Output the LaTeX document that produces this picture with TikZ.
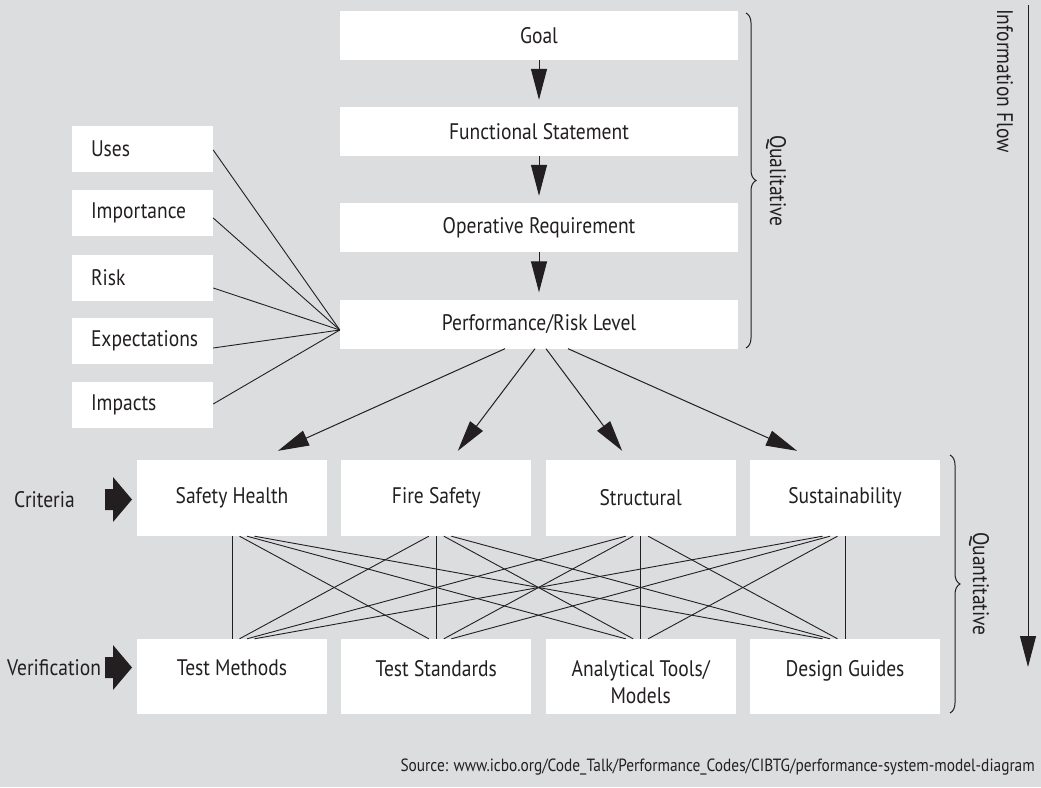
\documentclass[tikz,border=0pt]{standalone}
\usepackage{fontspec}
\setmainfont{PT Sans}[FakeStretch=0.868]
\usetikzlibrary{arrows.meta,decorations.pathreplacing,calc}
\definecolor{bg}{RGB}{220,221,223}
\definecolor{ink}{RGB}{35,31,32}
\begin{document}
\begin{tikzpicture}[x=1pt,y=-1pt,
  txt/.style={text=ink, font=\fontsize{22.5}{27}\selectfont},
  topbox/.style={txt, fill=white, inner sep=0pt, minimum width=398pt, minimum height=49pt},
  leftbox/.style={txt, fill=white, inner xsep=19pt, inner ysep=0pt, text width=103pt, align=left, minimum height=46pt},
  critbox/.style={txt, fill=white, inner sep=0pt, minimum width=190pt, minimum height=76pt},
  verbox/.style={fill=white, inner sep=0pt, minimum width=190pt, minimum height=75pt},
  vertext/.style={txt, inner sep=0pt, align=center, anchor=north},
  arr/.style={draw=ink, line width=1pt, -{Triangle[length=31pt,width=16pt]}},
  fan/.style={draw=ink, line width=0.9pt},
  blockarrow/.style={fill=ink},
  bracestyle/.style={draw=ink, line width=1pt, decorate, decoration={brace, amplitude=10pt}},
  side/.style={txt, rotate=-90}
]
\fill[bg] (0,0) rectangle (1041,787);
\useasboundingbox (0,0) rectangle (1041,787);

% top chain
\node[topbox] (goal) at (539,35.5) {Goal};
\node[topbox] (func) at (539,131.5) {Functional Statement};
\node[topbox] (oper) at (539,227.5) {Operative Requirement};
\node[topbox] (perf) at (539,324) {Performance/Risk Level};
\draw[arr, shorten >=7pt] (goal) -- (func);
\draw[arr, shorten >=7pt] (func) -- (oper);
\draw[arr, shorten >=7pt] (oper) -- (perf);

% left inputs
\node[leftbox] (uses) at (142.5,149) {Uses};
\node[leftbox] (impo) at (142.5,213) {Importance};
\node[leftbox] (risk) at (142.5,278) {Risk};
\node[leftbox] (expe) at (142.5,340.5) {Expectations};
\node[leftbox] (impa) at (142.5,404.5) {Impacts};
\coordinate (conv) at ([yshift=-6pt]perf.west);
\draw[fan] ([yshift=-1pt]uses.east) -- (conv);
\draw[fan] ([yshift=-5pt]impo.east) -- (conv);
\draw[fan] ([yshift=-10pt]risk.east) -- (conv);
\draw[fan] ([yshift=-7.5pt]expe.east) -- (conv);
\draw[fan] ([yshift=0.5pt]impa.east) -- (conv);

% criteria row
\node[critbox] (c0) at (232,498) {Safety Health};
\node[critbox] (c1) at (436.33,498) {Fire Safety};
\node[critbox] (c2) at (640.67,498) {Structural};
\node[critbox] (c3) at (845,498) {Sustainability};

% verification row
\node[verbox] (v0) at (232,676.5) {};
\node[verbox] (v1) at (436.33,676.5) {};
\node[verbox] (v2) at (640.67,676.5) {};
\node[verbox] (v3) at (845,676.5) {};
\node[vertext] (v0t) at ([yshift=-21pt]v0.north) {Test Methods};
\node[vertext] (v1t) at ([yshift=-21pt]v1.north) {Test Standards};
\node[vertext] (v2t) at ([yshift=-21pt]v2.north) {Analytical Tools/\\Models};
\node[vertext] (v3t) at ([yshift=-21pt]v3.north) {Design Guides};

% arrows from performance level
\draw[arr] ([xshift=-34pt]perf.south) -- ([xshift=46pt,yshift=9pt]c0.north);
\draw[arr] ([xshift=-4pt]perf.south) -- ([xshift=21.5pt,yshift=9pt]c1.north);
\draw[arr] ([xshift=7pt]perf.south) -- ([xshift=-18.5pt,yshift=9pt]c2.north);
\draw[arr] ([xshift=29pt]perf.south) -- ([xshift=-48pt,yshift=9pt]c3.north);

% cross connections
\foreach \i in {0,...,3}{
  \foreach \j in {0,...,3}{
    \pgfmathsetmacro{\sa}{7.5*(\j-\i)}
    \pgfmathsetmacro{\sb}{7.5*(\i-\j)}
    \draw[fan] ([xshift=\sa pt]c\i.south) -- ([xshift=\sb pt]v\j.north);
  }
}

% side labels with block arrows
\node[txt, anchor=west, inner sep=0pt] (crit) at (14,500) {Criteria};
\node[txt, anchor=west, inner sep=0pt] (veri) at (7,668) {Verification};
\fill[blockarrow] (105,489) -- (113,489) -- (113,477) -- (132,499.5) -- (113,522) -- (113,510) -- (105,510) -- cycle;
\fill[blockarrow] (105,657) -- (113,657) -- (113,645) -- (132,667.5) -- (113,690) -- (113,678) -- (105,678) -- cycle;

% braces
\coordinate (qlA) at (746,13);
\coordinate (qlB) at (746,348);
\draw[bracestyle] (qlA) -- (qlB);
\node[side] (qual) at (776,181) {Qualitative};
\coordinate (qnA) at (950,455);
\coordinate (qnB) at (950,713);
\draw[bracestyle] (qnA) -- (qnB);
\node[side] (quan) at (979,584) {Quantitative};

% information flow
\coordinate (ifA) at (1028,5);
\coordinate (ifB) at (1028,667);
\draw[arr] (ifA) -- (ifB);
\node[side, anchor=west, inner sep=0pt] (info) at (1005,9) {Information Flow};

% source
\node[text=ink, font=\fontsize{17.7}{21}\selectfont, anchor=base east, inner sep=0pt] (src) at (1035,771) {Source: www.icbo.org/Code\_Talk/Performance\_Codes/CIBTG/performance-system-model-diagram};
\end{tikzpicture}
\end{document}
